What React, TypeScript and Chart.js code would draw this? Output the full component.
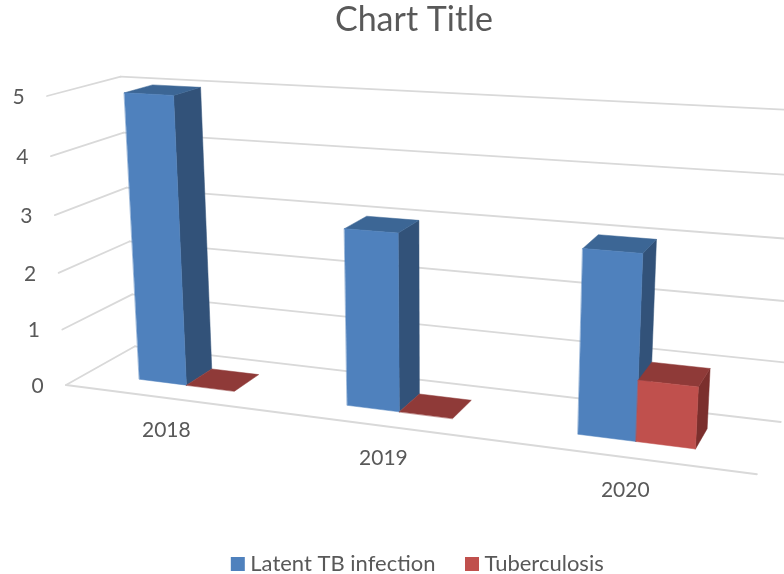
import React, { useEffect, useRef } from "react";
import { Chart, registerables } from "chart.js";

Chart.register(...registerables);

const categories = ["2018", "2019", "2020"];
const latentValues = [5, 3, 3];
const tuberculosisValues = [0, 0, 1];
const yTickMax = 5;

const FONT = "Lato, 'Open Sans', sans-serif";
const TEXT = "#595959";
const GRID = "#d9d9d9";
const faces = [
  { front: "#4f81bd", side: "#325279", top: "#3c6695" },
  { front: "#c0504d", side: "#7b2f2d", top: "#8f3a38" },
];

// Perspective of the 3D box: three vanishing points and the front-left floor corner.
const VX = [-3843, -120];
const VY = [435, 6000];
const VZ = [1050, -167];
const O = [66, 385];
const A = -0.1502, B = -0.04895, C = 0.0754;
const BAR_W0 = 0.3, BAR_W1 = 0.7;

function project(u: number, v: number, w: number): [number, number] {
  const d = 1 + A * u + B * v + C * w;
  return [
    (A * u * VX[0] + B * v * VY[0] + C * w * VZ[0] + O[0]) / d,
    (A * u * VX[1] + B * v * VY[1] + C * w * VZ[1] + O[1]) / d,
  ];
}

function poly(ctx: CanvasRenderingContext2D, pts: [number, number][], color: string) {
  ctx.beginPath();
  pts.forEach((p, i) => (i ? ctx.lineTo(p[0], p[1]) : ctx.moveTo(p[0], p[1])));
  ctx.closePath();
  ctx.fillStyle = color;
  ctx.strokeStyle = color;
  ctx.lineWidth = 0.5;
  ctx.fill();
  ctx.stroke();
}

function line(ctx: CanvasRenderingContext2D, a: [number, number], b: [number, number]) {
  ctx.beginPath();
  ctx.moveTo(a[0], a[1]);
  ctx.lineTo(b[0], b[1]);
  ctx.stroke();
}

const perspective3d = {
  id: "perspective3d",
  afterLayout(chart: any) {
    // Nudges the centred legend to the right, independently of the title.
    chart.legend.left += 12;
  },
  beforeDatasetsDraw(chart: any) {
    const { ctx, chartArea, scales } = chart;
    const yScale = scales.y;
    const xScale = scales.x;
    const toV = (px: number) => (chartArea.bottom - px) / chartArea.height;
    const toU = (px: number) => (px - chartArea.left) / chartArea.width;
    ctx.save();
    ctx.strokeStyle = GRID;
    ctx.lineWidth = 1.8;
    ctx.lineCap = "round";
    yScale.ticks.forEach((t: any) => {
      const v = toV(yScale.getPixelForValue(t.value));
      line(ctx, project(0, v, 0), project(0, v, 1));
      line(ctx, project(0, v, 1), project(1, v, 1));
    });
    line(ctx, project(0, 0, 0), project(1, 0, 0));
    ctx.fillStyle = TEXT;
    ctx.font = `21px ${FONT}`;
    ctx.textAlign = "center";
    ctx.textBaseline = "middle";
    yScale.ticks.forEach((t: any) => {
      const p = project(0, toV(yScale.getPixelForValue(t.value)), 0);
      ctx.fillText(String(t.value), p[0] - 28.5, p[1] + 1);
    });
    categories.forEach((c, i) => {
      const p = project(toU(xScale.getPixelForValue(i)), 0, 0);
      ctx.fillText(c, p[0], p[1] + 32.5);
    });
    // Bars, first series first so that the second one overlaps it.
    chart.data.datasets.forEach((_: any, index: number) => {
      const col = faces[index];
      chart.getDatasetMeta(index).data.forEach((el: any) => {
        const u0 = toU(el.x - el.width / 2);
        const u1 = toU(el.x + el.width / 2);
        const v0 = toV(el.base);
        const v1 = toV(el.y);
        if (v1 > v0) {
          poly(ctx, [project(u1, v0, BAR_W0), project(u1, v0, BAR_W1), project(u1, v1, BAR_W1), project(u1, v1, BAR_W0)], col.side);
        }
        poly(ctx, [project(u0, v1, BAR_W0), project(u0, v1, BAR_W1), project(u1, v1, BAR_W1), project(u1, v1, BAR_W0)], col.top);
        if (v1 > v0) {
          poly(ctx, [project(u0, v0, BAR_W0), project(u1, v0, BAR_W0), project(u1, v1, BAR_W0), project(u0, v1, BAR_W0)], col.front);
        }
      });
    });
    ctx.restore();
  },
  // The flat default bars are replaced by the 3D boxes above.
  beforeDatasetDraw() {
    return false;
  },
};

export default function App() {
  const ref = useRef<HTMLCanvasElement | null>(null);
  useEffect(() => {
    const chart = new Chart(ref.current as HTMLCanvasElement, {
      type: "bar",
      data: {
        labels: categories,
        datasets: [
          { label: "Latent TB infection", data: latentValues, backgroundColor: faces[0].front, borderWidth: 0, categoryPercentage: 0.47, barPercentage: 1 },
          { label: "Tuberculosis", data: tuberculosisValues, backgroundColor: faces[1].front, borderWidth: 0, categoryPercentage: 0.47, barPercentage: 1 },
        ],
      },
      options: {
        animation: false,
        responsive: false,
        maintainAspectRatio: false,
        layout: { padding: { left: 44, right: 0, top: 0, bottom: 0 } },
        scales: {
          x: { display: false },
          y: { display: false, min: 0, max: yTickMax, ticks: { stepSize: 1 } },
        },
        plugins: {
          title: {
            display: true,
            text: "Chart Title",
            color: TEXT,
            font: { family: FONT, size: 34, weight: "normal" },
            padding: { top: 0, bottom: 10 },
          },
          legend: {
            display: true,
            position: "bottom",
            maxHeight: 56,
            labels: {
              usePointStyle: true,
              pointStyle: "rect",
              boxWidth: 3,
              boxHeight: 14,
              padding: 35,
              color: TEXT,
              font: { family: FONT, size: 22 },
            },
          },
          tooltip: { enabled: false },
        },
      },
      plugins: [perspective3d],
    } as any);
    return () => chart.destroy();
  }, []);
  return (
    <div style={{ position: "absolute", left: 0, top: 0, width: 784, height: 574, background: "#fff" }}>
      <canvas ref={ref} width={784} height={574} style={{ display: "block" }} />
    </div>
  );
}
